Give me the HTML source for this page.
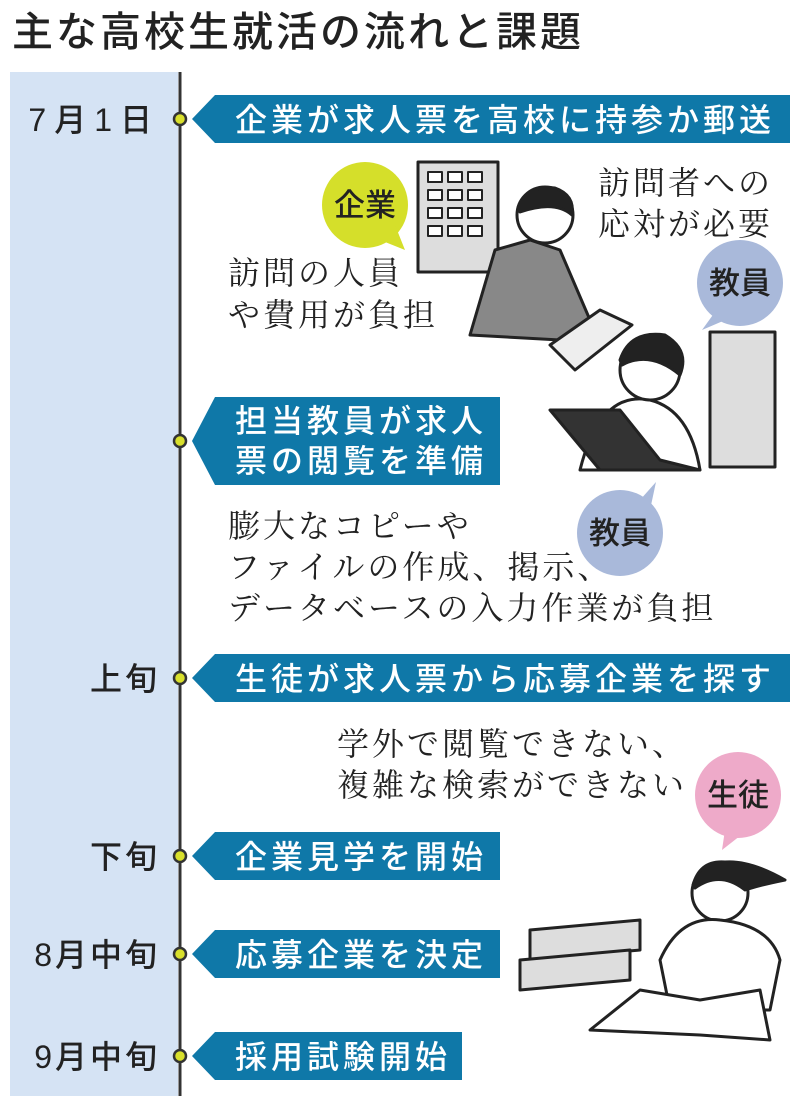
<!DOCTYPE html>
<html><head><meta charset="utf-8"><style>
html,body{margin:0;padding:0;background:#fff;width:800px;height:1103px;overflow:hidden}
svg{display:block}
.g{font-family:"Liberation Sans","Noto Sans CJK JP",sans-serif;font-weight:500}
.s{font-family:"Liberation Serif","Noto Serif CJK SC",serif;font-size:32px;fill:#222;letter-spacing:3px}
.w{fill:#fff;font-size:32px;letter-spacing:4px}
.lbl{font-size:32px;fill:#222;letter-spacing:3px}
</style></head><body>
<svg width="800" height="1103" viewBox="0 0 800 1103">
<text x="12" y="46" class="g" font-size="41" fill="#222" font-weight="bold" letter-spacing="3">主な高校生就活の流れと課題</text>
<rect x="10" y="72" width="168" height="1024" fill="#d5e3f4"/>
<line x1="180" y1="72" x2="180" y2="1096" stroke="#333" stroke-width="3"/>
<g fill="#0f78a8">
<polygon points="192,119 215,95 790,95 790,143 215,143"/>
<polygon points="192,441 215,397 500,397 500,485 215,485"/>
<polygon points="192,678 215,654 790,654 790,702 215,702"/>
<polygon points="192,856 215,832 500,832 500,880 215,880"/>
<polygon points="192,954 215,930 500,930 500,978 215,978"/>
<polygon points="192,1056 215,1032 462,1032 462,1080 215,1080"/>
</g>
<g fill="#d9e02c" stroke="#333" stroke-width="2.5">
<circle cx="180" cy="119" r="6"/><circle cx="180" cy="441" r="6"/><circle cx="180" cy="678" r="6"/>
<circle cx="180" cy="856" r="6"/><circle cx="180" cy="954" r="6"/><circle cx="180" cy="1056" r="6"/>
</g>
<g class="g">
<text x="235" y="131" class="w">企業が求人票を高校に持参か郵送</text>
<text x="235" y="432" class="w">担当教員が求人</text>
<text x="235" y="472" class="w">票の閲覧を準備</text>
<text x="235" y="690" class="w">生徒が求人票から応募企業を探す</text>
<text x="235" y="868" class="w">企業見学を開始</text>
<text x="235" y="966" class="w">応募企業を決定</text>
<text x="235" y="1068" class="w">採用試験開始</text>
<g class="lbl" text-anchor="end">
<text x="160" y="131" letter-spacing="8">7月1日</text>
<text x="160" y="690">上旬</text>
<text x="160" y="868">下旬</text>
<text x="160" y="966">8月中旬</text>
<text x="160" y="1068">9月中旬</text>
</g>
</g>
<g stroke="#222" stroke-width="3" stroke-linejoin="round">
<rect x="418" y="162" width="80" height="110" fill="#ddd"/>
<g fill="#fff" stroke-width="2"><rect x="428" y="172" width="14" height="10"/><rect x="448" y="172" width="14" height="10"/><rect x="468" y="172" width="14" height="10"/>
<rect x="428" y="190" width="14" height="10"/><rect x="448" y="190" width="14" height="10"/><rect x="468" y="190" width="14" height="10"/>
<rect x="428" y="208" width="14" height="10"/><rect x="448" y="208" width="14" height="10"/><rect x="468" y="208" width="14" height="10"/>
<rect x="428" y="226" width="14" height="10"/><rect x="448" y="226" width="14" height="10"/><rect x="468" y="226" width="14" height="10"/></g>
<path d="M470 335 L495 250 L530 240 L560 250 L590 320 L560 340 Z" fill="#888"/>
<circle cx="545" cy="215" r="28" fill="#fff"/>
<path d="M518 210 Q525 185 555 188 Q575 195 572 215 Q555 200 520 212Z" fill="#222"/>
<polygon points="550,345 600,310 632,325 575,370" fill="#eee"/>
<rect x="710" y="332" width="65" height="135" fill="#ddd"/>
<path d="M580 470 Q600 390 650 400 Q690 410 700 470 Z" fill="#fff"/>
<circle cx="650" cy="370" r="30" fill="#fff"/>
<path d="M620 360 Q630 330 665 335 Q690 350 680 375 Q650 350 622 365Z" fill="#222"/>
<polygon points="550,410 620,410 660,460 700,470 600,470" fill="#333"/>
<polygon points="530,930 640,920 640,950 530,960" fill="#ddd"/>
<polygon points="520,960 630,950 630,980 520,990" fill="#ddd"/>
<circle cx="720" cy="893" r="28" fill="#fff"/>
<path d="M693 885 Q700 860 725 862 Q750 860 785 880 Q760 885 745 890 Q720 870 695 888Z" fill="#222"/>
<path d="M660 960 Q680 915 720 920 Q770 925 780 960 L770 1010 L670 1010Z" fill="#fff"/>
<path d="M590 1030 L640 990 L700 1000 L760 990 L770 1040 L700 1035 Z" fill="#fff"/>
</g>
<g class="g" font-size="31" fill="#222">
<circle cx="365" cy="205" r="43" fill="#d5df2a"/><polygon points="380,240 405,250 395,225" fill="#d5df2a"/>
<text x="365" y="216" text-anchor="middle">企業</text>
<circle cx="740" cy="283" r="43" fill="#a9b9da"/><polygon points="715,312 702,330 730,318" fill="#a9b9da"/>
<text x="740" y="294" text-anchor="middle">教員</text>
<circle cx="620" cy="533" r="43" fill="#a9b9da"/><polygon points="640,500 656,482 650,510" fill="#a9b9da"/>
<text x="620" y="544" text-anchor="middle">教員</text>
<circle cx="738" cy="795" r="43" fill="#eeaac9"/><polygon points="725,830 722,850 745,832" fill="#eeaac9"/>
<text x="738" y="806" text-anchor="middle">生徒</text>
</g>
<g class="s">
<text x="228" y="284">訪問の人員</text>
<text x="228" y="326">や費用が負担</text>
<text x="598" y="194">訪問者への</text>
<text x="598" y="235">応対が必要</text>
<text x="228" y="537">膨大なコピーや</text>
<text x="228" y="578">ファイルの作成、掲示、</text>
<text x="228" y="619">データベースの入力作業が負担</text>
<text x="337" y="755">学外で閲覧できない、</text>
<text x="337" y="796">複雑な検索ができない</text>
</g>
</svg>
</body></html>
